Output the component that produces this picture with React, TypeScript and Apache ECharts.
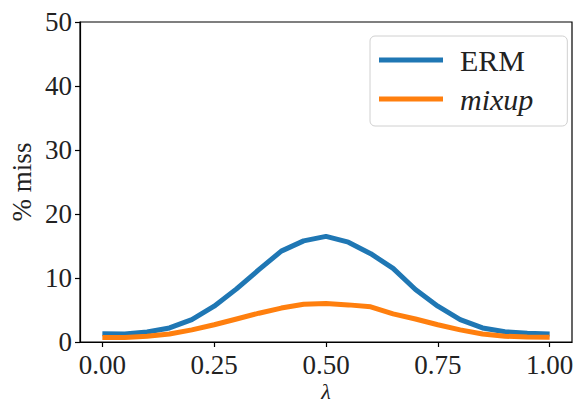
import React, { useEffect, useRef } from "react";
import * as echarts from "echarts";

const lambdas = [0, 0.05, 0.1, 0.15, 0.2, 0.25, 0.3, 0.35, 0.4, 0.45, 0.5, 0.55, 0.6, 0.65, 0.7, 0.75, 0.8, 0.85, 0.9, 0.95, 1.0];
const ermMiss = [1.3, 1.25, 1.55, 2.2, 3.5, 5.6, 8.3, 11.3, 14.2, 15.8, 16.5, 15.6, 13.8, 11.5, 8.2, 5.6, 3.5, 2.2, 1.6, 1.35, 1.25];
const mixupMiss = [0.7, 0.7, 0.9, 1.25, 1.9, 2.7, 3.6, 4.5, 5.3, 5.9, 6.0, 5.8, 5.5, 4.4, 3.6, 2.7, 1.9, 1.25, 0.9, 0.8, 0.75];
const xTicks = [0, 0.25, 0.5, 0.75, 1.0];
const seriesNames = ["ERM", "mixup"];

const FONT = "Liberation Serif, Times New Roman, serif";

export default function App() {
  const ref = useRef<HTMLDivElement>(null);
  useEffect(() => {
    if (!ref.current) return;
    const chart = echarts.init(ref.current, null, { renderer: "svg" });
    chart.setOption({
      animation: false,
      backgroundColor: "#fff",
      textStyle: { fontFamily: FONT },
      grid: {
        left: 80, top: 22, right: 4, bottom: 61,
        outerBoundsMode: "none", containLabel: false,
        show: true, borderColor: "#000", borderWidth: 1.2, backgroundColor: "transparent",
      },
      legend: {
        orient: "vertical",
        left: 370, top: 36,
        padding: [9, 34, 12, 9],
        itemGap: 9,
        itemWidth: 64, itemHeight: 5,
        icon: "rect",
        borderColor: "#d0d0d0", borderWidth: 1, borderRadius: 5,
        backgroundColor: "#fff",
        textStyle: { fontFamily: FONT, fontSize: 30, color: "#222", padding: [0, 0, 0, 12] },
        data: [
          { name: seriesNames[0] },
          { name: seriesNames[1], textStyle: { fontStyle: "italic" } },
        ],
      },
      xAxis: {
        type: "value", min: -0.05, max: 1.05,
        name: "λ", nameLocation: "middle", nameGap: 38, nameMoveOverlap: false,
        nameTextStyle: { fontFamily: FONT, fontSize: 22, lineHeight: 22, fontStyle: "italic", color: "#222" },
        axisLine: { show: true, onZero: false, lineStyle: { color: "#000", width: 1.2 } },
        axisTick: { show: true, length: 5, customValues: xTicks, lineStyle: { color: "#000", width: 1.2 } },
        axisLabel: {
          customValues: xTicks, margin: 9, fontSize: 27, lineHeight: 27, color: "#222", fontFamily: FONT,
          formatter: (v: number) => v.toFixed(2),
        },
        splitLine: { show: false },
      },
      yAxis: {
        type: "value", min: 0, max: 50, interval: 10,
        name: "% miss", nameLocation: "middle", nameGap: 45, nameMoveOverlap: false,
        nameTextStyle: { fontFamily: FONT, fontSize: 27, color: "#222" },
        axisLine: { show: true, onZero: false, lineStyle: { color: "#000", width: 1.2 } },
        axisTick: { show: true, length: 5, lineStyle: { color: "#000", width: 1.2 } },
        axisLabel: { margin: 8, fontSize: 27, color: "#222", fontFamily: FONT },
        splitLine: { show: false },
      },
      series: [
        {
          name: seriesNames[0], type: "line", showSymbol: false, symbol: "none",
          color: "#1f77b4", lineStyle: { width: 5, color: "#1f77b4" },
          data: lambdas.map((x, i) => [x, ermMiss[i]]),
        },
        {
          name: seriesNames[1], type: "line", showSymbol: false, symbol: "none",
          color: "#ff7f0e", lineStyle: { width: 5, color: "#ff7f0e" },
          data: lambdas.map((x, i) => [x, mixupMiss[i]]),
        },
      ],
    });
    return () => chart.dispose();
  }, []);
  return <div ref={ref} style={{ position: "fixed", left: 0, top: 0, width: 576, height: 403 }} />;
}
